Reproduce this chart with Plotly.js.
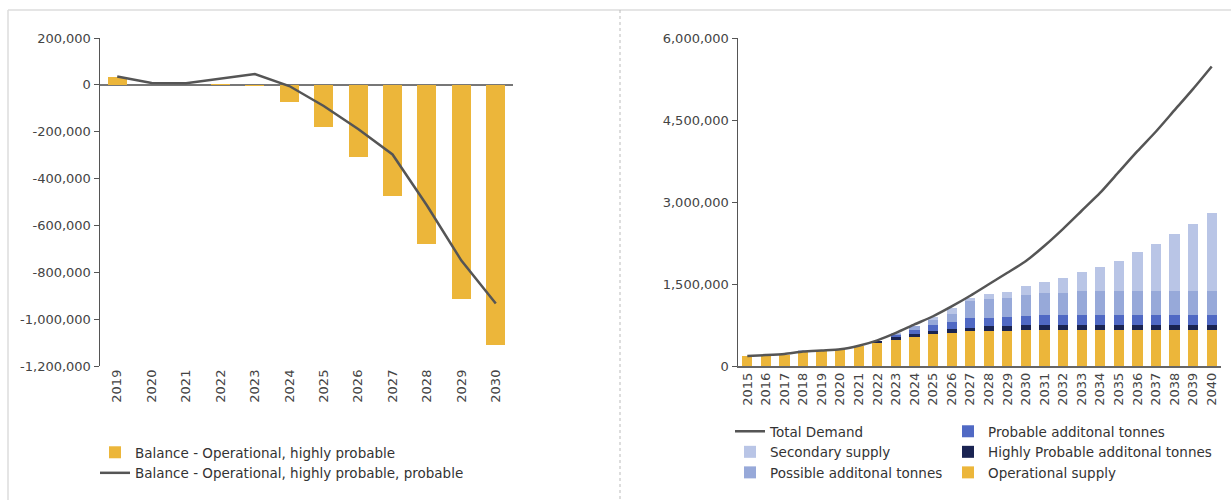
<!DOCTYPE html>
<html>
<head>
<meta charset="utf-8">
<script src="https://cdn.plot.ly/plotly-3.0.1.min.js"></script>
<style>html,body{margin:0;padding:0;background:#fff;}#chart{width:1231px;height:500px;}</style>
</head>
<body>
<div id="chart"></div>
<script>
// ---- Left chart data ----
const balanceYears = ['2019','2020','2021','2022','2023','2024','2025','2026','2027','2028','2029','2030'];
const balanceOpHighly = [33000, 0, 0, 4000, -3000, -72000, -178000, -309000, -476000, -680000, -912000, -1111000];
const balanceOpHighlyProbable = [36000, 8000, 7000, 26000, 46000, -5000, -90000, -188000, -297000, -515000, -750000, -933000];
const leftTickVals = [200000, 0, -200000, -400000, -600000, -800000, -1000000, -1200000];
const leftTickText = ['200,000', '0', '-200,000', '-400,000', '-600,000', '-800,000', '-1,000,000', '-1,200,000'];

// ---- Right chart data ----
const supplyYears = ['2015','2016','2017','2018','2019','2020','2021','2022','2023','2024','2025','2026','2027',
                     '2028','2029','2030','2031','2032','2033','2034','2035','2036','2037','2038','2039','2040'];
const operationalSupply = [177000,190000,205000,270000,285000,295000,365000,428000,483000,532000,585000,611000,640000,
                           640000,640000,655000,655000,655000,655000,655000,655000,655000,655000,655000,655000,655000];
const highlyProbable = [0,0,0,0,0,15000,0,22000,49000,49000,60000,61000,63000,
                        87000,87000,100000,100000,100000,100000,100000,100000,100000,100000,100000,100000,100000];
const probable = [0,0,0,0,0,0,0,0,36000,85000,102000,135000,183000,
                  159000,171000,160000,170000,170000,170000,170000,170000,170000,170000,170000,170000,170000];
const possible = [0,0,0,0,0,0,0,0,25000,61000,90000,153000,300000,
                  336000,355000,381000,402000,413000,445000,445000,445000,445000,445000,445000,445000,445000];
const secondary = [0,0,0,20000,0,0,0,0,12000,10000,60000,110000,61000,
                   104000,104000,165000,214000,276000,348000,445000,550000,709000,862000,1039000,1223000,1424000];
const totalDemand = [185000,200000,220000,265000,285000,305000,370000,470000,605000,760000,910000,1090000,1285000,
                     1495000,1705000,1920000,2200000,2510000,2840000,3170000,3550000,3930000,4290000,4680000,5070000,5480000];
const rightTickVals = [0, 1500000, 3000000, 4500000, 6000000];
const rightTickText = ['0', '1,500,000', '3,000,000', '4,500,000', '6,000,000'];

const YELLOW = '#ECB63A';
const LINE = '#555555';
const W = 1231, H = 500;
const px = v => v / W, py = v => 1 - v / H;

const traces = [
  {type:'bar', name:'Balance - Operational, highly probable', x:balanceYears, y:balanceOpHighly,
   xaxis:'x', yaxis:'y', marker:{color:YELLOW}, legend:'legend', legendrank:1},
  {type:'scatter', mode:'lines', name:'Balance - Operational, highly probable, probable', x:balanceYears, y:balanceOpHighlyProbable,
   xaxis:'x', yaxis:'y', line:{color:LINE, width:2.5}, legend:'legend', legendrank:2},

  {type:'bar', name:'Operational supply', x:supplyYears, y:operationalSupply, xaxis:'x2', yaxis:'y2',
   marker:{color:YELLOW}, legend:'legend3', legendrank:3},
  {type:'bar', name:'Highly Probable additonal tonnes', x:supplyYears, y:highlyProbable, xaxis:'x2', yaxis:'y2',
   marker:{color:'#1A2452'}, legend:'legend3', legendrank:2},
  {type:'bar', name:'Probable additonal tonnes', x:supplyYears, y:probable, xaxis:'x2', yaxis:'y2',
   marker:{color:'#5069C4'}, legend:'legend3', legendrank:1},
  {type:'bar', name:'Possible additonal tonnes', x:supplyYears, y:possible, xaxis:'x2', yaxis:'y2',
   marker:{color:'#97A9D9'}, legend:'legend2', legendrank:3},
  {type:'bar', name:'Secondary supply', x:supplyYears, y:secondary, xaxis:'x2', yaxis:'y2',
   marker:{color:'#B9C5E6'}, legend:'legend2', legendrank:2},
  {type:'scatter', mode:'lines', name:'Total Demand', x:supplyYears, y:totalDemand, xaxis:'x2', yaxis:'y2',
   line:{color:LINE, width:2.5, shape:'spline', smoothing:0.6}, legend:'legend2', legendrank:1}
];

const tickFont = {family:'DejaVu Sans, sans-serif', size:13, color:'#444'};
const legendFont = {family:'DejaVu Sans, sans-serif', size:13.5, color:'#333'};

const layout = {
  width:W, height:H,
  margin:{l:0, r:0, t:0, b:0},
  paper_bgcolor:'#fff', plot_bgcolor:'#fff',
  barmode:'stack',
  bargap:0.45,
  showlegend:true,
  xaxis:{domain:[px(100), px(513)], type:'category', range:[-0.5, 11.5], showgrid:false, zeroline:false,
         showline:false, ticks:'', tickangle:-90, tickfont:tickFont, anchor:'y', fixedrange:true},
  yaxis:{domain:[py(366), py(38)], range:[-1200000, 200000], tickvals:leftTickVals, ticktext:leftTickText,
         showgrid:false, zeroline:true, zerolinecolor:'#777', zerolinewidth:1.5,
         showline:true, linecolor:'#555', linewidth:1.5, ticks:'outside', ticklen:5, tickcolor:'#555',
         tickfont:tickFont, anchor:'x'},
  xaxis2:{domain:[px(738), px(1221)], type:'category', range:[-0.5, 25.5], showgrid:false, zeroline:false,
          showline:true, linecolor:'#666', linewidth:1.5, ticks:'', tickangle:-90, tickfont:tickFont, anchor:'y2'},
  yaxis2:{domain:[py(366), py(38)], range:[0, 6000000], tickvals:rightTickVals, ticktext:rightTickText,
          showgrid:false, zeroline:false, showline:true, linecolor:'#555', linewidth:1.5,
          ticks:'outside', ticklen:5, tickcolor:'#555', tickfont:tickFont, anchor:'x2'},
  legend:{x:px(95), y:py(437), xanchor:'left', yanchor:'top', font:legendFont, bgcolor:'rgba(0,0,0,0)',
          traceorder:'normal', tracegroupgap:0, itemwidth:30},
  legend2:{x:px(730), y:py(416), xanchor:'left', yanchor:'top', font:legendFont, bgcolor:'rgba(0,0,0,0)',
           traceorder:'normal', tracegroupgap:0, itemwidth:30},
  legend3:{x:px(948), y:py(416), xanchor:'left', yanchor:'top', font:legendFont, bgcolor:'rgba(0,0,0,0)',
           traceorder:'normal', tracegroupgap:0, itemwidth:30},
  shapes:[
    {type:'line', xref:'paper', yref:'paper', x0:px(8), x1:1, y0:py(10), y1:py(10), line:{color:'#dddddd', width:1.5}},
    {type:'line', xref:'paper', yref:'paper', x0:px(8), x1:px(8), y0:py(10), y1:0, line:{color:'#dddddd', width:1.5}},
    {type:'line', xref:'paper', yref:'paper', x0:px(620), x1:px(620), y0:py(10), y1:0, line:{color:'#bbbbbb', width:1, dash:'dot'}}
  ]
};

Plotly.newPlot('chart', traces, layout, {displayModeBar:false, staticPlot:true});
</script>
</body>
</html>
